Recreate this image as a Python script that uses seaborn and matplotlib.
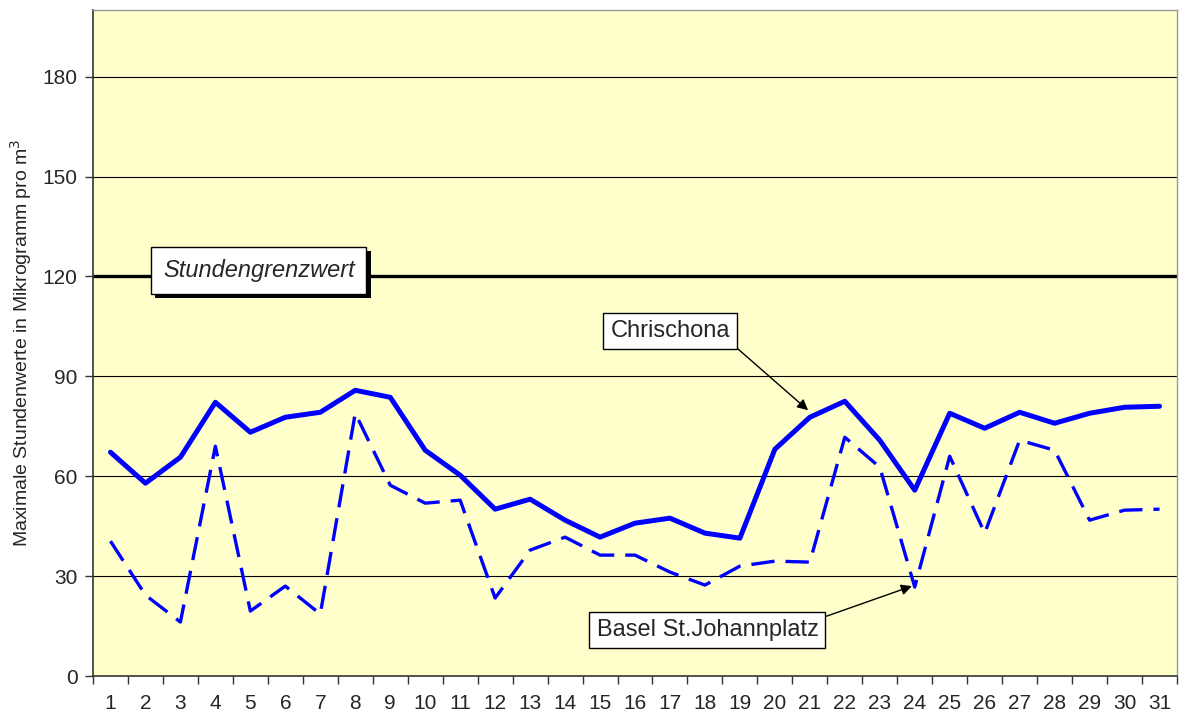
import numpy as np
import pandas as pd
import seaborn as sns
import matplotlib.pyplot as plt
import matplotlib.patheffects as pe

# Tage im Monat
tage = list(range(1, 32))

# Maximale Stundenwerte (Mikrogramm pro m3)
chrischona = [67.2, 57.9, 65.7, 82.2, 73.2, 77.7, 79.2, 85.8, 83.7, 67.8,
              60.3, 50.1, 53.1, 46.8, 41.7, 45.9, 47.4, 42.9, 41.4, 68.1,
              77.7, 82.5, 70.8, 55.8, 78.9, 74.4, 79.2, 75.9, 78.9, 80.7, 81.0]
basel = [40.5, 24.3, 16.2, 69.0, 19.5, 27.0, 18.6, 78.9, 57.3, 51.9,
         52.8, 23.4, 37.8, 41.7, 36.3, 36.3, 31.2, 27.3, 33.0, 34.5,
         34.2, 71.7, 62.7, 26.7, 66.0, 42.9, 70.8, 67.8, 46.8, 49.8, 50.1]
grenzwert = 120
y_ticks = [0, 30, 60, 90, 120, 150, 180]

df = pd.DataFrame({'Tag': tage, 'Chrischona': chrischona,
                   'Basel St.Johannplatz': basel})

sns.set_style('white')
plt.rcParams['font.family'] = ['Liberation Sans', 'DejaVu Sans']

fig = plt.figure(figsize=(11.82, 7.17), dpi=100)
ax = fig.add_axes([93 / 1182, 1 - 676 / 717, (1177 - 93) / 1182, (676 - 10) / 717])
ax.set_facecolor('#FFFFCC')

# Gitterlinien
for v in y_ticks[1:]:
    ax.axhline(v, color='black', lw=0.8, zorder=1)
ax.axhline(grenzwert, color='black', lw=2.4, zorder=2)

sns.lineplot(data=df, x='Tag', y='Chrischona', ax=ax, color='#0000FF',
             lw=3.6, zorder=4)
sns.lineplot(data=df, x='Tag', y='Basel St.Johannplatz', ax=ax,
             color='#0000FF', lw=2.4, zorder=3, dashes=False)
ax.lines[-1].set_dashes([7, 3.3])

ax.set_xlim(0.5, 31.5)
ax.set_ylim(0, 200)
ax.set_yticks(y_ticks)
ax.set_yticklabels([str(v) for v in y_ticks], fontsize=15)
ax.set_xticks(np.arange(0.5, 32, 1))
ax.set_xticklabels([])
ax.set_xticks(tage, minor=True)
ax.set_xticklabels([str(t) for t in tage], minor=True, fontsize=15)
ax.tick_params(axis='x', which='major', direction='out', length=6, width=1,
               color='#333333', bottom=True)
ax.tick_params(axis='x', which='minor', length=0, pad=13)
ax.tick_params(axis='y', direction='out', length=6, width=1, color='#333333',
               left=True, pad=5)
ax.set_xlabel('')
ax.set_ylabel('Maximale Stundenwerte in Mikrogramm pro m$^3$', fontsize=14,
              labelpad=6)

for s in ['left', 'bottom']:
    ax.spines[s].set_color('#333333')
    ax.spines[s].set_linewidth(1.2)
for s in ['top', 'right']:
    ax.spines[s].set_color('#999999')
    ax.spines[s].set_linewidth(1)

# Beschriftungen
t = ax.text(2.5, grenzwert + 1.8, 'Stundengrenzwert', fontsize=17,
            style='italic', va='center', ha='left', zorder=6,
            bbox=dict(boxstyle='square,pad=0.5', fc='white', ec='black', lw=1))
t.get_bbox_patch().set_path_effects([
    pe.SimplePatchShadow(offset=(3, -3), shadow_rgbFace='black', alpha=1),
    pe.Normal()])

ax.annotate('Chrischona', xy=(20.95, 79.8), xytext=(15.3, 103.6),
            fontsize=17, ha='left', va='center', zorder=6,
            bbox=dict(boxstyle='square,pad=0.3', fc='white', ec='black', lw=1),
            arrowprops=dict(arrowstyle='-|>', color='black', lw=1,
                            shrinkA=0, shrinkB=0, mutation_scale=16,
                            relpos=(1, 0)))
ax.annotate('Basel St.Johannplatz', xy=(23.92, 27), xytext=(14.9, 13.8),
            fontsize=17, ha='left', va='center', zorder=6,
            bbox=dict(boxstyle='square,pad=0.3', fc='white', ec='black', lw=1),
            arrowprops=dict(arrowstyle='-|>', color='black', lw=1,
                            shrinkA=0, shrinkB=0, mutation_scale=16,
                            relpos=(1, 1)))

fig.savefig('out.png', dpi=100, facecolor='white')
